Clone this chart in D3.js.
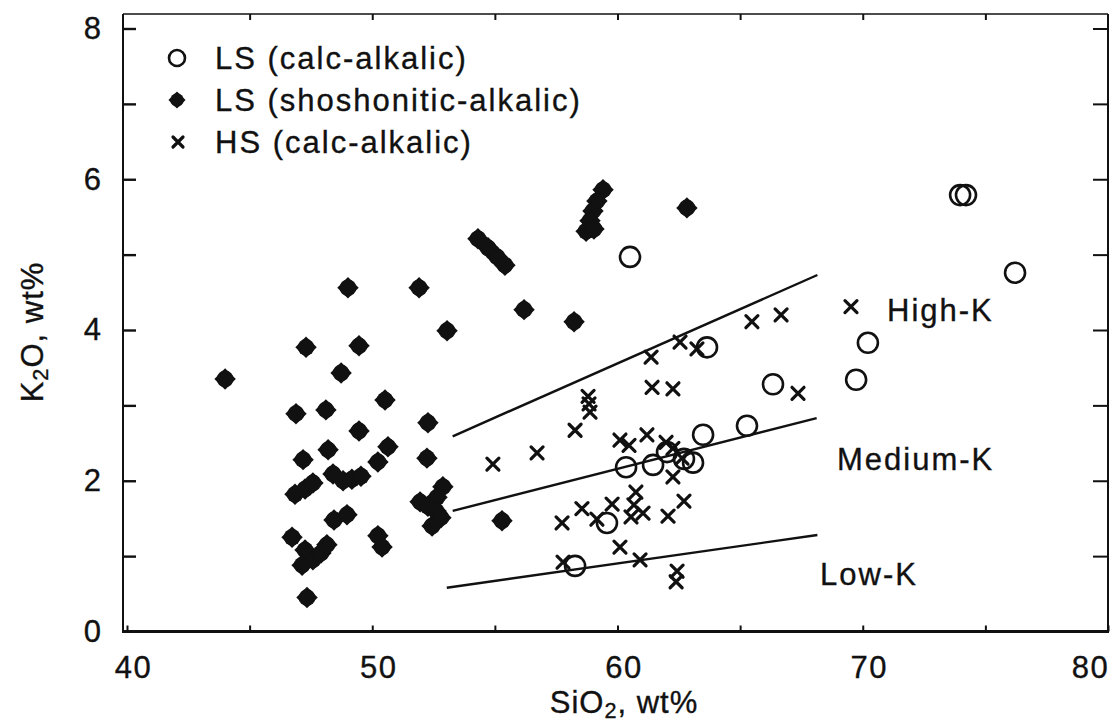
<!DOCTYPE html>
<html>
<head>
<meta charset="utf-8">
<script src="https://cdn.jsdelivr.net/npm/d3@7"></script>
<style>
  html, body { margin: 0; padding: 0; background: #fff; }
  svg { display: block; }
  text { font-family: "Liberation Sans", Arial, Helvetica, sans-serif; fill: #111; stroke: #111; stroke-width: 0.35px; }
</style>
</head>
<body>
<svg id="chart" width="1117" height="725"></svg>
<script>
// Axis extents and ticks
const xDomain = [40, 80];
const yDomain = [0, 8];
const xTickValues = [40, 45, 50, 55, 60, 65, 70, 75, 80];
const xTickLabels = [40, 50, 60, 70, 80];
const yTickValues = [0, 1, 2, 3, 4, 5, 6, 7, 8];
const yTickLabels = [0, 2, 4, 6, 8];

// LS (calc-alkalic): open circles
const lsCalcSiO2 = [60.51, 73.97, 74.21, 76.21, 70.21, 69.73, 66.34, 65.28, 63.49, 63.65,
                    60.35, 61.45, 62.02, 62.71, 63.08, 59.57, 58.27];
const lsCalcK2O  = [4.97, 5.79, 5.79, 4.76, 3.83, 3.34, 3.28, 2.73, 2.61, 3.77,
                    2.18, 2.21, 2.38, 2.29, 2.24, 1.44, 0.87];

// LS (shoshonitic-alkalic): filled diamonds
const lsShoSiO2 = [44.00, 47.30, 49.46, 48.73, 50.52, 46.89, 48.11, 52.27, 49.46, 47.18,
                   48.20, 50.64, 50.23, 52.23, 48.40, 48.81, 49.17, 49.54, 46.85, 47.26,
                   47.58, 52.88, 52.64, 51.95, 52.27, 52.60, 52.80, 52.44, 48.44, 48.97,
                   46.73, 50.23, 50.40, 47.26, 47.14, 47.58, 47.91, 48.15, 47.34, 55.29,
                   53.05, 49.01, 51.91, 56.19, 58.23, 54.31, 54.72, 55.09, 55.41, 59.41,
                   59.16, 59.00, 58.88, 58.72, 59.04, 62.83];
const lsShoK2O  = [3.35, 3.77, 3.79, 3.43, 3.07, 2.89, 2.94, 2.77, 2.66, 2.28,
                   2.41, 2.45, 2.25, 2.30, 2.09, 2.00, 2.02, 2.06, 1.82, 1.89,
                   1.97, 1.92, 1.78, 1.72, 1.66, 1.60, 1.51, 1.40, 1.48, 1.55,
                   1.25, 1.27, 1.12, 1.08, 0.88, 0.95, 1.04, 1.15, 0.45, 1.47,
                   3.99, 4.56, 4.56, 4.27, 4.11, 5.21, 5.09, 4.97, 4.86, 5.86,
                   5.71, 5.58, 5.45, 5.31, 5.34, 5.62];

// HS (calc-alkalic): crosses
const hsSiO2 = [54.92, 56.72, 58.27, 58.80, 58.84, 58.88, 61.37, 62.55, 63.24, 65.48,
                66.67, 69.52, 61.41, 62.26, 67.36, 60.10, 60.47, 61.20, 61.98, 62.26,
                62.63, 62.26, 57.74, 58.55, 59.16, 59.78, 60.75, 60.67, 61.04, 60.55,
                62.06, 62.71, 60.10, 60.92, 57.78, 62.43, 62.39];
const hsK2O  = [2.22, 2.37, 2.67, 3.12, 3.02, 2.91, 3.64, 3.84, 3.75, 4.11,
                4.20, 4.31, 3.24, 3.22, 3.16, 2.54, 2.47, 2.61, 2.51, 2.43,
                2.30, 2.05, 1.44, 1.63, 1.49, 1.69, 1.85, 1.68, 1.57, 1.52,
                1.53, 1.73, 1.12, 0.95, 0.92, 0.80, 0.66];

// Series boundaries (SiO2 start/end, K2O start/end)
const boundaryNames = ["Low-K", "Medium-K", "High-K"];
const boundarySiO2 = [[53.04, 68.15], [53.28, 68.12], [53.28, 68.15]];
const boundaryK2O  = [[0.58, 1.28], [1.60, 2.83], [2.59, 4.73]];
// Series field labels (anchor point of each label, in data units)
const fieldLabelSiO2 = [68.26, 68.95, 70.99];
const fieldLabelK2O  = [0.75, 2.28, 4.26];

const legendLabels = ["LS (calc-alkalic)", "LS (shoshonitic-alkalic)", "HS (calc-alkalic)"];

// ---- layout ----
const svg = d3.select("#chart");
const frame = { left: 123, right: 1108, top: 14, bottom: 631.5 };
const x = d3.scaleLinear().domain(xDomain).range([127, frame.right]);
const y = d3.scaleLinear().domain(yDomain).range([frame.bottom, 28.5]);

const FONT = 31;

// frame lines
svg.append("line").attr("x1", frame.left).attr("x2", frame.left)
  .attr("y1", frame.top).attr("y2", frame.bottom + 1).attr("stroke", "#111").attr("stroke-width", 2);
svg.append("line").attr("x1", frame.right).attr("x2", frame.right)
  .attr("y1", frame.top).attr("y2", frame.bottom + 1).attr("stroke", "#111").attr("stroke-width", 2);
svg.append("line").attr("x1", frame.left).attr("x2", frame.right)
  .attr("y1", frame.top).attr("y2", frame.top).attr("stroke", "#111").attr("stroke-width", 1.6);
svg.append("line").attr("x1", frame.left - 1).attr("x2", frame.right + 1)
  .attr("y1", frame.bottom).attr("y2", frame.bottom).attr("stroke", "#111").attr("stroke-width", 3);

function styleAxis(g) {
  g.select(".domain").remove();
  g.selectAll(".tick line").attr("stroke", "#111").attr("stroke-width", 2);
  g.selectAll(".tick text").attr("font-size", FONT)
    .attr("font-family", "'Liberation Sans', Arial, sans-serif").attr("fill", "#111");
}

// bottom axis
const xAxis = d3.axisBottom(x).tickValues(xTickValues).tickSizeInner(-6).tickSizeOuter(0)
  .tickPadding(24).tickFormat(d => xTickLabels.includes(d) ? d : "");
const gx = svg.append("g").attr("transform", `translate(0,${frame.bottom})`).call(xAxis).call(styleAxis);
gx.selectAll(".tick text").attr("dx", d => d === 80 ? -18 : 6).attr("letter-spacing", 1.5);

// top axis (ticks only)
svg.append("g").attr("transform", `translate(0,${frame.top})`)
  .call(d3.axisTop(x).tickValues(xTickValues.slice(1, -1)).tickSizeInner(-6).tickSizeOuter(0).tickFormat(""))
  .call(styleAxis);

// left axis
const yAxis = d3.axisLeft(y).tickValues(yTickValues).tickSizeInner(-13).tickSizeOuter(0)
  .tickPadding(22).tickFormat(d => yTickLabels.includes(d) ? d : "");
const gy = svg.append("g").attr("transform", `translate(${frame.left},0)`).call(yAxis).call(styleAxis);
gy.selectAll(".tick line").attr("stroke-width", d => d === 0 ? 0 : 2.4);

// right axis (ticks only)
svg.append("g").attr("transform", `translate(${frame.right},0)`)
  .call(d3.axisRight(y).tickValues(yTickValues.slice(1)).tickSizeInner(-15).tickSizeOuter(0).tickFormat(""))
  .call(styleAxis);

// axis titles
const xTitle = svg.append("text").attr("x", 624).attr("y", 713)
  .attr("text-anchor", "middle").attr("font-size", FONT).attr("letter-spacing", 1);
xTitle.append("tspan").text("SiO");
xTitle.append("tspan").text("2").attr("font-size", FONT * 0.7).attr("baseline-shift", "-22%");
xTitle.append("tspan").text(", wt%");

const yTitle = svg.append("text").attr("transform", "translate(43,332) rotate(-90)")
  .attr("text-anchor", "middle").attr("font-size", FONT).attr("letter-spacing", 1);
yTitle.append("tspan").text("K");
yTitle.append("tspan").text("2").attr("font-size", FONT * 0.7).attr("baseline-shift", "-22%");
yTitle.append("tspan").text("O, wt%");

// series boundary lines
const plot = svg.append("g");
boundaryNames.forEach((name, i) => {
  plot.append("line")
    .attr("x1", x(boundarySiO2[i][0])).attr("y1", y(boundaryK2O[i][0]))
    .attr("x2", x(boundarySiO2[i][1])).attr("y2", y(boundaryK2O[i][1]))
    .attr("stroke", "#111").attr("stroke-width", 2.4);
  plot.append("text")
    .attr("x", x(fieldLabelSiO2[i])).attr("y", y(fieldLabelK2O[i]))
    .attr("dominant-baseline", "central")
    .attr("font-size", FONT).attr("letter-spacing", 2)
    .text(name);
});

// marker drawers
const squarePath = d3.symbol().type(d3.symbolSquare).size(230)();
function drawDiamond(g, cx, cy, scale = 1) {
  const m = g.append("g").attr("transform", `translate(${cx},${cy}) scale(${scale})`);
  m.append("path").attr("d", squarePath).attr("transform", "rotate(45)").attr("fill", "#111");
  m.append("circle").attr("r", 8.4).attr("fill", "#111");
}
function drawCircle(g, cx, cy, r = 10) {
  g.append("circle").attr("cx", cx).attr("cy", cy).attr("r", r)
    .attr("fill", "none").attr("stroke", "#111").attr("stroke-width", 2.6);
}
function drawCross(g, cx, cy, h = 6) {
  g.append("path").attr("d", `M${cx - h},${cy - h}L${cx + h},${cy + h}M${cx - h},${cy + h}L${cx + h},${cy - h}`)
    .attr("stroke", "#111").attr("stroke-width", 3.2).attr("stroke-linecap", "round").attr("fill", "none");
}

// data marks
const gSho = plot.append("g");
lsShoSiO2.forEach((v, i) => drawDiamond(gSho, x(v), y(lsShoK2O[i])));
const gCalc = plot.append("g");
lsCalcSiO2.forEach((v, i) => drawCircle(gCalc, x(v), y(lsCalcK2O[i])));
const gHs = plot.append("g");
hsSiO2.forEach((v, i) => drawCross(gHs, x(v), y(hsK2O[i])));

// legend
const legend = svg.append("g");
const legendY = [58, 100, 142];
drawCircle(legend, 177, legendY[0], 8);
drawDiamond(legend, 177, legendY[1], 0.8);
drawCross(legend, 178, legendY[2], 5);
legendLabels.forEach((t, i) => {
  legend.append("text").attr("x", 215).attr("y", legendY[i])
    .attr("dominant-baseline", "central").attr("font-size", FONT).attr("letter-spacing", 2)
    .text(t);
});
</script>
</body>
</html>
